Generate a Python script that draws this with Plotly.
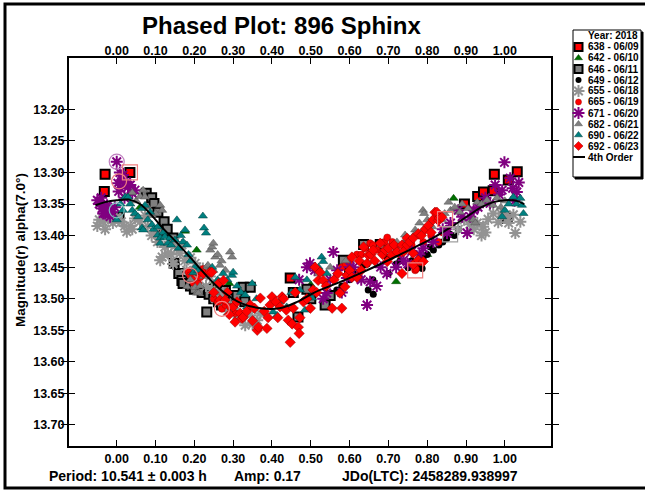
import plotly.graph_objects as go

W, H = 645, 491
FONT = "Liberation Sans, Arial, sans-serif"

# ---------------- data (phase, reduced magnitude) ----------------
PH_638 = [-0.032, -0.030, 0.034, 0.447, 0.896, 0.930, 0.945, 0.970, 0.973, 1.009, 1.032]
MAG_638 = [13.330, 13.303, 13.300, 13.467, 13.350, 13.338, 13.331, 13.329, 13.303, 13.312, 13.299]

PH_642 = [0.060, 0.176, 0.206, 0.246, 0.290, 0.323, 0.500, 0.620, 0.720, 0.800, 0.868, 0.913]
MAG_642 = [13.355, 13.393, 13.423, 13.479, 13.476, 13.502, 13.478, 13.462, 13.473, 13.430, 13.341, 13.376]

PH_646 = [0.006, 0.076, 0.090, 0.096, 0.106, 0.120, 0.122, 0.130, 0.145, 0.148, 0.160, 0.168,
          0.171, 0.190, 0.200, 0.220, 0.232, 0.236, 0.238, 0.250, 0.262, 0.270, 0.280, 0.290,
          0.300, 0.310, 0.326, 0.330, 0.344, 0.455, 0.467, 0.490, 0.500, 0.537, 0.550, 0.584,
          0.600, 0.636, 0.679, 1.006]
MAG_646 = [13.371, 13.333, 13.340, 13.349, 13.363, 13.394, 13.378, 13.390, 13.404, 13.444, 13.460, 13.471,
           13.476, 13.480, 13.485, 13.490, 13.521, 13.485, 13.493, 13.500, 13.505, 13.510, 13.487, 13.495,
           13.500, 13.495, 13.482, 13.505, 13.482, 13.490, 13.529, 13.485, 13.500, 13.510, 13.495, 13.439,
           13.460, 13.414, 13.414, 13.373]

PH_649 = [0.567, 0.580, 0.600, 0.620, 0.636, 0.645, 0.648, 0.660, 0.661, 0.696, 0.700, 0.720,
          0.730, 0.751, 0.760, 0.776, 0.787, 0.790, 0.800, 0.808, 0.816, 0.830, 0.840, 0.850,
          0.859, 0.870, 0.880]
MAG_649 = [13.486, 13.480, 13.470, 13.460, 13.447, 13.445, 13.486, 13.470, 13.493, 13.434, 13.460, 13.445,
           13.440, 13.451, 13.440, 13.450, 13.452, 13.434, 13.430, 13.418, 13.423, 13.415, 13.410, 13.405,
           13.398, 13.400, 13.390]

PH_655 = [-0.050, -0.045, -0.035, -0.030, -0.022, -0.010, 0.000, 0.012, 0.020, 0.026, 0.035, 0.040,
          0.047, 0.060, 0.073, 0.080, 0.090, 0.100, 0.105, 0.112, 0.117, 0.124, 0.132, 0.140,
          0.145, 0.150, 0.155, 0.163, 0.168, 0.175, 0.180, 0.190, 0.202, 0.210, 0.222, 0.230,
          0.240, 0.245, 0.255, 0.262, 0.274, 0.275, 0.285, 0.290, 0.300, 0.310, 0.320, 0.331,
          0.344, 0.350, 0.362, 0.370, 0.880, 0.895, 0.910, 0.920, 0.929, 0.940, 0.944, 0.950,
          0.957, 0.970, 0.983, 0.990, 1.000, 1.010, 1.022, 1.027, 1.040]
MAG_655 = [13.385, 13.375, 13.378, 13.390, 13.373, 13.380, 13.371, 13.378, 13.385, 13.394, 13.385, 13.390,
           13.373, 13.378, 13.368, 13.385, 13.400, 13.395, 13.410, 13.439, 13.434, 13.418, 13.428, 13.430,
           13.445, 13.410, 13.420, 13.428, 13.415, 13.440, 13.455, 13.435, 13.444, 13.460, 13.452, 13.480,
           13.465, 13.485, 13.500, 13.491, 13.491, 13.502, 13.520, 13.510, 13.515, 13.525, 13.530, 13.542,
           13.526, 13.540, 13.534, 13.523, 13.390, 13.375, 13.382, 13.390, 13.380, 13.400, 13.386, 13.395,
           13.374, 13.365, 13.379, 13.365, 13.370, 13.380, 13.367, 13.396, 13.378]

PH_665 = [0.185, 0.189, 0.195, 0.198, 0.205, 0.210, 0.215, 0.222, 0.250, 0.260, 0.271, 0.280,
          0.292, 0.305, 0.580, 0.590, 0.600, 0.619, 0.630, 0.640, 0.653, 0.660, 0.670, 0.684,
          0.690, 0.697, 0.710, 0.720, 0.730, 0.740, 0.760, 0.769, 0.771, 0.779, 0.782, 0.790,
          0.803, 0.810, 0.829, 0.840, 0.850]
MAG_665 = [13.458, 13.463, 13.470, 13.475, 13.458, 13.476, 13.466, 13.453, 13.500, 13.505, 13.516, 13.510,
           13.513, 13.523, 13.450, 13.445, 13.440, 13.430, 13.430, 13.420, 13.412, 13.415, 13.423, 13.426,
           13.410, 13.403, 13.410, 13.420, 13.430, 13.425, 13.415, 13.455, 13.453, 13.400, 13.442, 13.410,
           13.386, 13.400, 13.410, 13.395, 13.390]

PH_671 = [-0.050, -0.045, -0.040, -0.038, -0.035, -0.030, -0.025, -0.020, -0.017, -0.012, -0.005, 0.000,
          0.003, 0.005, 0.008, 0.010, 0.014, 0.016, 0.020, 0.025, 0.029, 0.035, 0.040, 0.047,
          0.470, 0.490, 0.498, 0.510, 0.532, 0.541, 0.550, 0.558, 0.568, 0.580, 0.593, 0.601,
          0.610, 0.619, 0.630, 0.645, 0.653, 0.670, 0.680, 0.696, 0.720, 0.739, 0.750, 0.760,
          0.780, 0.790, 0.816, 0.825, 0.840, 0.851, 0.860, 0.880, 0.890, 0.903, 0.911, 0.920,
          0.931, 0.950, 0.962, 0.975, 0.985, 0.993, 0.999, 1.014, 1.020, 1.025, 1.031, 1.036]
MAG_671 = [13.344, 13.350, 13.340, 13.357, 13.365, 13.365, 13.352, 13.360, 13.370, 13.363, 13.355, 13.283,
           13.317, 13.330, 13.300, 13.325, 13.312, 13.304, 13.340, 13.315, 13.323, 13.320, 13.333, 13.328,
           13.470, 13.450, 13.444, 13.455, 13.500, 13.491, 13.470, 13.426, 13.455, 13.490, 13.467, 13.450,
           13.450, 13.465, 13.470, 13.510, 13.473, 13.480, 13.450, 13.460, 13.450, 13.439, 13.445, 13.425,
           13.430, 13.420, 13.410, 13.372, 13.390, 13.396, 13.380, 13.360, 13.370, 13.396, 13.370, 13.360,
           13.355, 13.340, 13.349, 13.320, 13.335, 13.328, 13.284, 13.309, 13.325, 13.345, 13.331, 13.316]

PH_682 = [0.040, 0.050, 0.060, 0.068, 0.073, 0.080, 0.091, 0.100, 0.112, 0.117, 0.181, 0.190,
          0.202, 0.206, 0.210, 0.215, 0.225, 0.232, 0.235, 0.241, 0.246, 0.249, 0.249, 0.254,
          0.254, 0.260, 0.266, 0.266, 0.270, 0.280, 0.292, 0.297, 0.520, 0.550, 0.590, 0.722,
          0.735, 0.738, 0.743, 0.750, 0.769, 0.769, 0.780, 0.789, 0.792, 0.790, 0.800, 0.813,
          0.820, 0.838, 0.845, 0.855, 0.860, 0.871, 0.884, 0.890, 0.905, 0.919, 0.924, 0.929,
          0.940, 0.954, 0.970, 0.980, 0.990, 1.000]
MAG_682 = [13.332, 13.345, 13.338, 13.328, 13.339, 13.355, 13.368, 13.365, 13.352, 13.360, 13.481, 13.470,
           13.482, 13.491, 13.491, 13.480, 13.465, 13.450, 13.447, 13.423, 13.418, 13.412, 13.455, 13.434,
           13.490, 13.430, 13.447, 13.473, 13.440, 13.455, 13.426, 13.434, 13.460, 13.450, 13.440, 13.410,
           13.415, 13.412, 13.399, 13.405, 13.391, 13.397, 13.380, 13.360, 13.365, 13.391, 13.375, 13.386,
           13.370, 13.375, 13.365, 13.347, 13.360, 13.355, 13.363, 13.350, 13.357, 13.375, 13.380, 13.347,
           13.350, 13.344, 13.352, 13.340, 13.355, 13.345]

PH_690 = [0.000, 0.010, 0.016, 0.022, 0.029, 0.035, 0.040, 0.047, 0.055, 0.065, 0.065, 0.068,
          0.073, 0.080, 0.086, 0.091, 0.095, 0.106, 0.106, 0.112, 0.112, 0.120, 0.124, 0.132,
          0.137, 0.140, 0.150, 0.155, 0.160, 0.165, 0.171, 0.176, 0.181, 0.185, 0.190, 0.197,
          0.202, 0.210, 0.222, 0.225, 0.230, 0.246, 0.260, 0.274, 0.285, 0.297, 0.300, 0.310,
          0.320, 0.331, 0.336, 0.349, 0.360, 0.403, 0.413, 0.420, 0.438, 0.450, 0.460, 0.472,
          0.485, 0.490, 0.503, 0.507, 0.520, 0.528, 0.532, 0.541, 0.993, 1.000, 1.010, 1.022,
          1.030, 1.040, 1.044, 1.048]
MAG_690 = [13.375, 13.350, 13.360, 13.339, 13.339, 13.350, 13.360, 13.365, 13.370, 13.357, 13.388, 13.391,
           13.352, 13.375, 13.363, 13.383, 13.390, 13.386, 13.399, 13.404, 13.412, 13.395, 13.402, 13.412,
           13.404, 13.415, 13.407, 13.375, 13.420, 13.400, 13.410, 13.391, 13.415, 13.430, 13.440, 13.459,
           13.450, 13.455, 13.369, 13.388, 13.396, 13.450, 13.470, 13.460, 13.470, 13.463, 13.458, 13.480,
           13.490, 13.494, 13.513, 13.476, 13.500, 13.521, 13.526, 13.505, 13.513, 13.490, 13.466, 13.486,
           13.518, 13.470, 13.499, 13.491, 13.450, 13.434, 13.441, 13.460, 13.370, 13.360, 13.350, 13.339,
           13.350, 13.341, 13.352, 13.365]

PH_692 = [0.223, 0.240, 0.245, 0.250, 0.262, 0.266, 0.275, 0.279, 0.285, 0.290, 0.300, 0.305,
          0.310, 0.318, 0.323, 0.326, 0.335, 0.344, 0.350, 0.355, 0.362, 0.365, 0.370, 0.380,
          0.387, 0.390, 0.395, 0.400, 0.410, 0.415, 0.421, 0.426, 0.430, 0.437, 0.442, 0.447,
          0.452, 0.455, 0.460, 0.468, 0.470, 0.472, 0.481, 0.490, 0.499, 0.506, 0.511, 0.515,
          0.519, 0.524, 0.532, 0.540, 0.555, 0.560, 0.570, 0.575, 0.580, 0.588, 0.593, 0.600,
          0.606, 0.606, 0.619, 0.625, 0.630, 0.636, 0.645, 0.648, 0.655, 0.661, 0.665, 0.679,
          0.685, 0.692, 0.697, 0.700, 0.709, 0.715, 0.722, 0.735, 0.735, 0.740, 0.748, 0.748,
          0.755, 0.764, 0.764, 0.764, 0.777, 0.777, 0.785, 0.790, 0.795, 0.803, 0.810, 0.815,
          0.820, 0.825, 0.829, 0.831, 0.838]
MAG_692 = [13.460, 13.458, 13.458, 13.490, 13.476, 13.502, 13.471, 13.502, 13.490, 13.525, 13.513, 13.537,
           13.505, 13.523, 13.531, 13.529, 13.520, 13.510, 13.535, 13.515, 13.550, 13.545, 13.499, 13.520,
           13.547, 13.530, 13.510, 13.497, 13.505, 13.530, 13.513, 13.497, 13.500, 13.518, 13.534, 13.569,
           13.540, 13.515, 13.490, 13.545, 13.555, 13.530, 13.505, 13.500, 13.515, 13.486, 13.450, 13.490,
           13.471, 13.458, 13.471, 13.480, 13.515, 13.470, 13.460, 13.491, 13.515, 13.481, 13.463, 13.455,
           13.466, 13.434, 13.466, 13.440, 13.455, 13.418, 13.444, 13.431, 13.430, 13.423, 13.440, 13.412,
           13.430, 13.423, 13.441, 13.420, 13.431, 13.415, 13.426, 13.460, 13.415, 13.425, 13.404, 13.415,
           13.410, 13.404, 13.428, 13.446, 13.397, 13.439, 13.400, 13.441, 13.390, 13.384, 13.395, 13.375,
           13.363, 13.363, 13.376, 13.372, 13.371]

# highlighted (flagged) observations
HL_PH = [0.000, 0.034, 0.006, 0.189, 0.271, 0.000, 0.769, 0.846, 0.859]
HL_MAG = [13.283, 13.300, 13.314, 13.463, 13.516, 13.360, 13.455, 13.374, 13.398]

# 4th order Fourier fit
FIT_PH = [-0.055, -0.03, 0.0, 0.03, 0.06, 0.09, 0.12, 0.15, 0.19, 0.235, 0.27, 0.32, 0.37, 0.42,
          0.465, 0.51, 0.57, 0.63, 0.68, 0.73, 0.77, 0.82, 0.86, 0.90, 0.94, 0.97, 1.0, 1.03, 1.05]
FIT_MAG = [13.352, 13.347, 13.344, 13.343, 13.350, 13.368, 13.389, 13.408, 13.435, 13.466, 13.487,
           13.507, 13.515, 13.515, 13.505, 13.490, 13.475, 13.459, 13.445, 13.430, 13.418, 13.402,
           13.387, 13.371, 13.355, 13.347, 13.344, 13.345, 13.350]

SERIES_NAMES = ["638 - 06/09", "642 - 06/10", "646 - 06/11", "649 - 06/12", "655 - 06/18",
                "665 - 06/19", "671 - 06/20", "682 - 06/21", "690 - 06/22", "692 - 06/23"]
FIT_NAME = "4th Order"
LEGEND_TITLE = "Year: 2018"

X_TICKS = [0.0, 0.1, 0.2, 0.3, 0.4, 0.5, 0.6, 0.7, 0.8, 0.9, 1.0]
X_TICK_TEXT = ["0.00", "0.10", "0.20", "0.30", "0.40", "0.50", "0.60", "0.70", "0.80", "0.90", "1.00"]
Y_TICKS = [13.20, 13.25, 13.30, 13.35, 13.40, 13.45, 13.50, 13.55, 13.60, 13.65, 13.70]
Y_TICK_TEXT = ["13.20", "13.25", "13.30", "13.35", "13.40", "13.45", "13.50", "13.55", "13.60", "13.65", "13.70"]

TITLE = "Phased Plot: 896 Sphinx"
Y_TITLE = "Magnitude(r) alpha(7.0°)"
FOOT = ["Period: 10.541 ± 0.003 h", "Amp: 0.17", "JDo(LTC): 2458289.938997"]

# ---------------- styles ----------------
STYLES = [
    dict(symbol="square", size=9, color="#ff0000", line=dict(color="black", width=2)),
    dict(symbol="triangle-up", size=8, color="#007000", line=dict(color="#004000", width=0.5)),
    dict(symbol="square", size=9, color="#808080", line=dict(color="black", width=2)),
    dict(symbol="circle", size=7, color="black", line=dict(color="black", width=0)),
    dict(symbol="asterisk-open", size=10, color="#939393", line=dict(color="#939393", width=2)),
    dict(symbol="circle", size=7, color="#ff0000", line=dict(color="#a00000", width=0.5)),
    dict(symbol="asterisk-open", size=10, color="#800080", line=dict(color="#800080", width=2)),
    dict(symbol="triangle-up", size=8, color="#808080", line=dict(color="#505050", width=0.5)),
    dict(symbol="triangle-up", size=8, color="#008080", line=dict(color="#003c3c", width=0.5)),
    dict(symbol="diamond", size=8, color="#ff0000", line=dict(color="#900000", width=0.5)),
]
HL_SYMBOLS = ["circle-open", "square-open", "circle-open", "circle-open", "circle-open",
              "circle-open", "square-open", "square-open", "square-open"]
HL_COLORS = ["#c080c0", "#f08080", "#f08080", "#f08080", "#f08080",
             "#80c0c0", "#f08080", "#f08080", "#a0a0a0"]

PH = [PH_638, PH_642, PH_646, PH_649, PH_655, PH_665, PH_671, PH_682, PH_690, PH_692]
MG = [MAG_638, MAG_642, MAG_646, MAG_649, MAG_655, MAG_665, MAG_671, MAG_682, MAG_690, MAG_692]

# plot area in pixels
PL, PR, PT, PB = 69, 551, 58, 446

def px(x):
    return x / W

def py(y):
    return 1 - y / H

fig = go.Figure()

for name, xs, ys, st in zip(SERIES_NAMES, PH, MG, STYLES):
    fig.add_trace(go.Scatter(x=xs, y=ys, mode="markers", name=name, showlegend=False,
                             marker=st, xaxis="x", yaxis="y", cliponaxis=False))

fig.add_trace(go.Scatter(x=HL_PH, y=HL_MAG, mode="markers", showlegend=False,
                         marker=dict(symbol=HL_SYMBOLS, size=15, color=HL_COLORS,
                                     line=dict(width=1.2, color=HL_COLORS)),
                         xaxis="x2", yaxis="y", cliponaxis=False))

fig.add_trace(go.Scatter(x=FIT_PH, y=FIT_MAG, mode="lines", name=FIT_NAME, showlegend=False,
                         line=dict(color="black", width=2, shape="spline"),
                         xaxis="x", yaxis="y"))

# ---------------- custom legend (pixel overlay axis) ----------------
LEG_X0, LEG_Y0, LEG_X1, LEG_Y1 = 573, 30, 641, 177
ROW_Y = [47, 58, 69, 80, 91, 102, 113, 124, 135, 146]
MARK_X = 578.5
TEXT_X = 586
for st, yy in zip(STYLES, ROW_Y):
    s = dict(st)
    s["size"] = st["size"] - 1 if st["symbol"] != "asterisk-open" else 10
    fig.add_trace(go.Scatter(x=[MARK_X], y=[yy], mode="markers", showlegend=False,
                             marker=s, xaxis="x3", yaxis="y3", cliponaxis=False, hoverinfo="skip"))
fig.add_trace(go.Scatter(x=[573, 585], y=[157, 157], mode="lines", showlegend=False,
                         line=dict(color="black", width=2), xaxis="x3", yaxis="y3",
                         cliponaxis=False, hoverinfo="skip"))

shapes = [
    dict(type="rect", xref="paper", yref="paper", x0=px(5), x1=px(680), y0=py(4), y1=py(488),
         line=dict(color="black", width=3), layer="below"),
    dict(type="rect", xref="paper", yref="paper", x0=px(LEG_X0 + 2), x1=px(LEG_X1 + 2),
         y0=py(LEG_Y0 + 2), y1=py(LEG_Y1 + 2), line=dict(color="black", width=1),
         fillcolor="black", layer="below"),
    dict(type="rect", xref="paper", yref="paper", x0=px(LEG_X0), x1=px(LEG_X1),
         y0=py(LEG_Y0), y1=py(LEG_Y1), line=dict(color="black", width=1),
         fillcolor="white", layer="below"),
]

LEG_FONT = dict(family=FONT, size=10, color="black")
FOOT_FONT = dict(family=FONT, size=14, color="black")
annotations = [
    dict(text="<b>" + TITLE + "</b>", x=px(281), y=py(25), xref="paper", yref="paper",
         showarrow=False, xanchor="center", yanchor="middle",
         font=dict(family=FONT, size=24, color="black")),
    dict(text="<b>" + Y_TITLE + "</b>", x=px(20), y=py(250), xref="paper", yref="paper",
         showarrow=False, textangle=-90, xanchor="center", yanchor="middle",
         font=dict(family=FONT, size=13.5, color="black")),
    dict(text="<b>" + FOOT[0] + "</b>", x=px(47), y=py(476), xref="paper", yref="paper",
         showarrow=False, xanchor="left", yanchor="middle", font=FOOT_FONT),
    dict(text="<b>" + FOOT[1] + "</b>", x=px(232), y=py(476), xref="paper", yref="paper",
         showarrow=False, xanchor="left", yanchor="middle", font=FOOT_FONT),
    dict(text="<b>" + FOOT[2] + "</b>", x=px(520), y=py(476), xref="paper", yref="paper",
         showarrow=False, xanchor="right", yanchor="middle", font=FOOT_FONT),
    dict(text="<b>" + LEGEND_TITLE + "</b>", x=px(640), y=py(35.5), xref="paper", yref="paper",
         showarrow=False, xanchor="right", yanchor="middle", font=LEG_FONT),
]
for name, yy in zip(SERIES_NAMES + [FIT_NAME], ROW_Y + [157]):
    annotations.append(dict(text="<b>" + name + "</b>", x=px(TEXT_X), y=py(yy), xref="paper", yref="paper",
                            showarrow=False, xanchor="left", yanchor="middle", font=LEG_FONT))

TICKFONT = dict(family=FONT, size=12.5, color="black", weight="bold")
common_x = dict(range=[-0.123, 1.119], tickvals=X_TICKS, ticktext=X_TICK_TEXT, ticks="inside",
                ticklen=6, tickwidth=1, tickcolor="black", showgrid=False, zeroline=False,
                tickfont=TICKFONT, fixedrange=True)

fig.update_layout(
    width=W, height=H, autosize=False,
    margin=dict(l=0, r=0, t=0, b=0),
    paper_bgcolor="white", plot_bgcolor="rgba(0,0,0,0)",
    showlegend=False,
    xaxis=dict(domain=[px(PL), px(PR)], anchor="y", showline=True, linecolor="black",
               linewidth=2, mirror=True, **common_x),
    xaxis2=dict(overlaying="x", side="top", anchor="y", showline=False, **common_x),
    yaxis=dict(domain=[py(PB), py(PT)], anchor="x", range=[13.7333, 13.1187],
               tickvals=Y_TICKS, ticktext=Y_TICK_TEXT, ticks="inside", ticklen=6, tickwidth=1,
               tickcolor="black", showline=True, linecolor="black", linewidth=2, mirror="allticks",
               showgrid=False, zeroline=False, tickfont=TICKFONT, fixedrange=True),
    xaxis3=dict(domain=[0, 1], range=[0, W], visible=False, anchor="y3", fixedrange=True),
    yaxis3=dict(domain=[0, 1], range=[H, 0], visible=False, anchor="x3", fixedrange=True),
    shapes=shapes,
    annotations=annotations,
)

fig.write_html("out.html", config={"displayModeBar": False},
               post_script="document.body.style.margin='0';")
